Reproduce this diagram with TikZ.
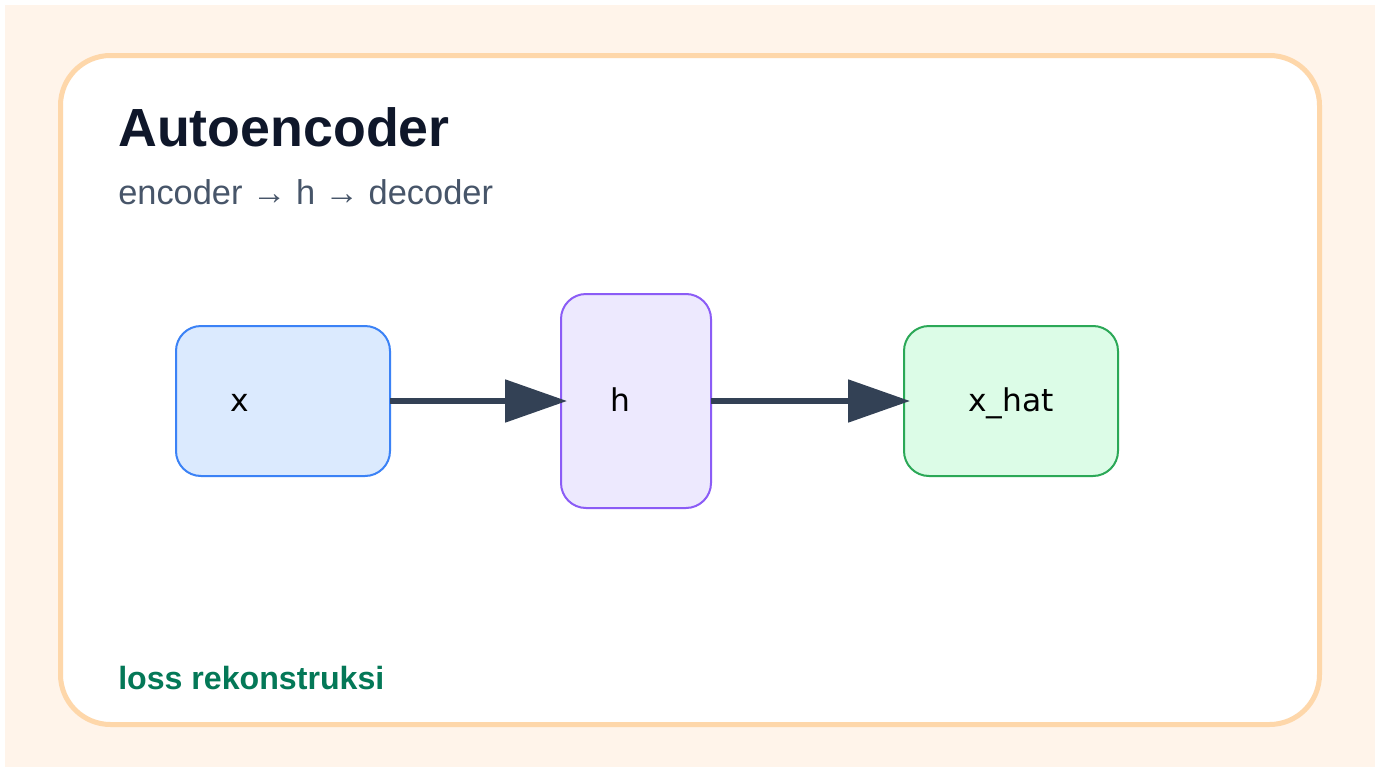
\documentclass[tikz,border=0pt]{standalone}
\usepackage{fontspec}
\setmainfont{Liberation Sans}
\newfontfamily\boxfont{DejaVu Sans}
\usetikzlibrary{arrows.meta}
\definecolor{pagebg}{HTML}{FFF4EA}
\definecolor{cardline}{HTML}{FED7AA}
\definecolor{titleink}{HTML}{0F172A}
\definecolor{subink}{HTML}{475569}
\definecolor{lossink}{HTML}{047857}
\definecolor{flowink}{HTML}{334155}
\definecolor{xfill}{HTML}{DBEAFE}
\definecolor{xline}{HTML}{3B82F6}
\definecolor{hfill}{HTML}{EDE9FE}
\definecolor{hline}{HTML}{8B5CF6}
\definecolor{yfill}{HTML}{DCFCE7}
\definecolor{yline}{HTML}{2BA857}
\tikzset{
        % boxes of the network, text set a little left of centre
        stage/.style={
            draw, line width=1.5pt, rounded corners=18.75pt,
            outer sep=0pt, font=\boxfont\fontsize{23.5}{28}\selectfont,
            text height=15pt, text depth=0pt,
        },
        wide/.style={minimum width=160.5pt, minimum height=112.5pt},
        tall/.style={minimum width=112.5pt, minimum height=160.5pt},
        flow/.style={
            draw=flowink, line width=4pt, shorten >=-4.5pt,
            -{Triangle[length=46.5pt, width=31.5pt]}
        },
    }
\begin{document}
\begin{tikzpicture}[x=0.75pt,y=0.75pt,yscale=-1,xscale=1]
\useasboundingbox (0,0) rectangle (1382,771);

%Shape: Rectangle [page]
\fill [pagebg] (5,5) rectangle (1375,767);
%Shape: Rounded Rect [card]
\draw [cardline, fill=white, line width=3.75pt, rounded corners=37.5pt] (60.5,55.5) rectangle (1319.5,724.5);

% Text Node
\node (title) [anchor=base west, inner sep=0pt, text=titleink, font=\bfseries\fontsize{40.3}{46}\selectfont] at (118,146) {Autoencoder};
% Text Node
\node (sub) [anchor=base west, inner sep=0pt, text=subink, font=\fontsize{25.8}{31}\selectfont] at (118,204) {encoder → h → decoder};

%Shape: Rounded Rect [input]
\node (x) [stage, wide, draw=xline, fill=xfill, inner xsep=40.5pt, text width=79.5pt, align=left] at (283,401) {x};
%Shape: Rounded Rect [code]
\node (h) [stage, tall, draw=hline, fill=hfill, inner xsep=37pt, text width=38.5pt, align=left] at (636,401) {h};
%Shape: Rounded Rect [output]
\node (xhat) [stage, wide, draw=yline, fill=yfill] at (1011,401) {x\_hat};

%Straight Lines [arrows]
\draw [flow] (x.east) -- (h.west);
\draw [flow] (h.east) -- (xhat.west);

% Text Node
\node (loss) [anchor=base west, inner sep=0pt, text=lossink, font=\bfseries\fontsize{24.1}{29}\selectfont] at (118,689) {loss rekonstruksi};

\end{tikzpicture}
\end{document}
